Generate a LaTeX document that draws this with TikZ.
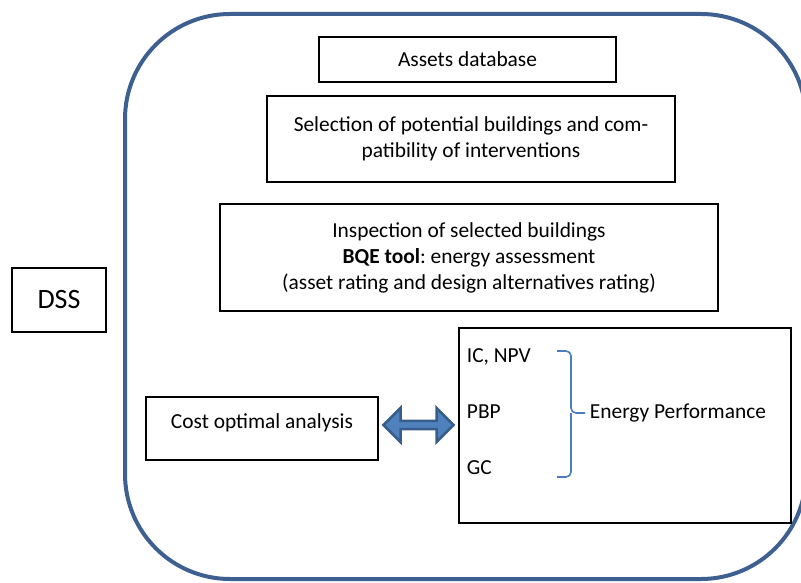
\documentclass[tikz,border=0pt]{standalone}
\usepackage{fontspec}
\setmainfont{Carlito}
\usetikzlibrary{shapes.arrows}

\definecolor{framecol}{RGB}{62,96,145}
\definecolor{arrowfill}{RGB}{79,129,189}
\definecolor{arrowline}{RGB}{56,93,138}
\definecolor{bracecol}{RGB}{74,126,193}

\tikzset{
  stepbox/.style={draw, line width=1.4pt, align=center, inner sep=0pt, font=\fontsize{21.4}{26}\selectfont},
  plaintext/.style={inner sep=0.75pt, font=\fontsize{21.4}{26}\selectfont},
}

\begin{document}
\frenchspacing
\begin{tikzpicture}[x=1pt,y=1pt,yscale=-1,xscale=1]
\useasboundingbox (0,0) rectangle (801,583);

%Shape: Rounded Rect [frame]
\draw [framecol, line width=4pt, rounded corners=105pt] (125,14) rectangle (806,579);

% Text Node
\node [stepbox, minimum width=297pt, minimum height=45pt] (assets) at (467.5,59.5) {Assets database};
% Text Node
\node [stepbox, minimum width=408pt, minimum height=86pt] (select) at (471,139) {Selection of potential buildings and com-\\patibility of interventions};
% Text Node
\node [stepbox, minimum width=498pt, minimum height=107pt] (inspect) at (469,257.5) {Inspection of selected buildings\\\textbf{BQE tool}: energy assessment\\(asset rating and design alternatives rating)};
% Text Node
\node [stepbox, minimum width=94pt, minimum height=64pt, font=\fontsize{28}{32}\selectfont] (dss) at (59,300) {DSS};
% Text Node
\node [stepbox, minimum width=232pt, minimum height=63pt] (cost) at (262,428.5) {\raisebox{15pt}{Cost optimal analysis}};
%Shape: Rectangle
\node [stepbox, minimum width=332pt, minimum height=195pt] (perf) at (625,425.5) {};

%Shape: Double Arrow
\node [double arrow, draw=arrowline, fill=arrowfill, line width=2.5pt, minimum height=70pt, minimum width=34pt, double arrow head extend=4pt, inner sep=0pt] (link) at (418.5,425) {};

% Text Node
\node [plaintext, anchor=west] (icnpv) at (466,357) {IC, NPV};
\node [plaintext, anchor=west] (pbp) at (466,412) {PBP};
\node [plaintext, anchor=west] (gc) at (466,468) {GC};
\node [plaintext, anchor=west] (ep) at (589,413) {Energy Performance};

%Shape: Brace
\coordinate (bt) at (557,351);
\coordinate (bb) at (557,477);
\draw [bracecol, line width=1.6pt, rounded corners=5pt] (bt) -| (571,413) -- ([xshift=-4pt]ep.west);
\draw [bracecol, line width=1.6pt, rounded corners=5pt] (bb) -| (571,413);
\end{tikzpicture}
\end{document}
